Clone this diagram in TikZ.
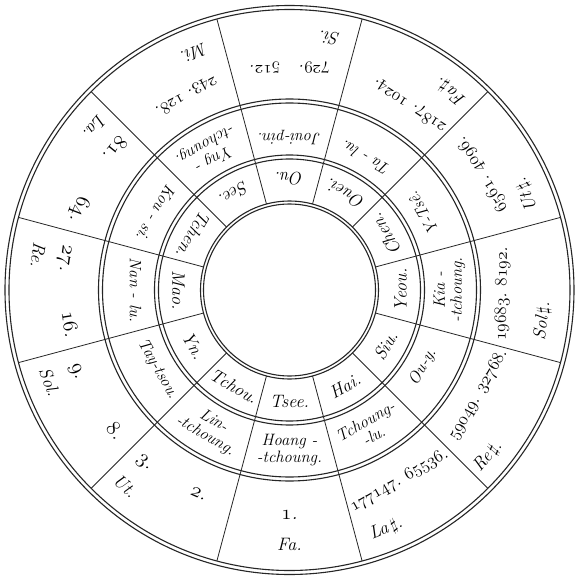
\documentclass[tikz,border=0pt]{standalone}
\usetikzlibrary{calc}
\newcommand\on[1]{{\usefont{OML}{lmm}{m}{it}#1}}
\tikzset{
  ringline/.style={line width=1.1pt, draw=black!85},
  spoke/.style={line width=0.8pt, draw=black!85},
  br/.style={font=\fontsize{18}{20}\selectfont\itshape, inner sep=0pt},
  lu/.style={font=\fontsize{16.5}{17}\selectfont\itshape, inner sep=0pt, align=center},
  num/.style={font=\fontsize{18.5}{20}\selectfont\itshape, inner sep=0pt},
  sn/.style={font=\fontsize{20}{22}\selectfont\itshape, inner sep=0pt},
  note/.style={font=\fontsize{18}{20}\selectfont\itshape, inner sep=0pt},
}
\begin{document}
\begin{tikzpicture}[x=1pt,y=1pt]
\useasboundingbox (-289.5,-289) rectangle (285.5,290);
\fill[white] (-289.5,-289) rectangle (285.5,290);
% rings
\foreach \r in {86,89,131,135,187,191,280.5,284.5} \draw[ringline] (0,0) circle (\r);
% spokes
\foreach \a in {15,45,...,345} \draw[spoke] (\a:89) -- (\a:280.5);
% twelve branches
\node[br,rotate=0]    (tsee)  at (-90:111)  {Tsee.};
\node[br,rotate=-30]  (tchou) at (-120:111) {Tchou.};
\node[br,rotate=-60]  (yn)    at (-150:111) {Yn.};
\node[br,rotate=-90]  (mao)   at (180:111)  {Mao.};
\node[br,rotate=-120] (tchen) at (150:111)  {Tchen.};
\node[br,rotate=210]  (see)   at (120:111)  {See.};
\node[br,rotate=180]  (ou)    at (90:111)   {Ou.};
\node[br,rotate=150]  (ouei)  at (60:111)   {Ouei.};
\node[br,rotate=120]  (chen)  at (30:111)   {Chen.};
\node[br,rotate=90]   (yeou)  at (0:111)    {Yeou.};
\node[br,rotate=60]   (siu)   at (-30:111)  {Siu.};
\node[br,rotate=30]   (hai)   at (-60:111)  {Hai.};
% twelve lu
\node[lu,rotate=0]    (hoang)   at (-90:160)  {Hoang -\\-tchoung.};
\node[lu,rotate=-30]  (lin)     at (-120:160) {Lin-\\-tchoung.};
\node[lu,rotate=-60]  (tay)     at (-149:154) {Tay-tsou.};
\node[lu,rotate=-90]  (nan)     at (180:154)  {Nan - lu.};
\node[lu,rotate=-120] (kou)     at (150:154)  {Kou - si.};
\node[lu,rotate=210]  (yng)     at (120:160)  {Yng -\\-tchoung.};
\node[lu,rotate=180]  (joui)    at (90:152)   {Joui-pin.};
\node[lu,rotate=150]  (ta)      at (60:152)   {Ta - lu.};
\node[lu,rotate=120]  (ytse)    at (30:154)   {Y-Tsê.};
\node[lu,rotate=90]   (kia)     at (0:160)    {Kia -\\-tchoung.};
\node[lu,rotate=60]   (ouy)     at (-30:154)  {Ou-y.};
\node[lu,rotate=30]   (tchoung) at (-60:160)  {Tchoung-\\-lu.};
% outer ring numbers and notes
\node[sn,rotate=0]     (n1)   at (-90:225)  {\on{1}.};
\node[note,rotate=0]   (fa)   at (-90:254)  {Fa.};
\node[sn,rotate=-24]   (n2)   at (-114:223) {\on{2}.};
\node[sn,rotate=-40]   (n3)   at (-130:226) {\on{3}.};
\node[note,rotate=-40] (ut)   at (-130:256) {Ut.};
\node[sn,rotate=-51]   (n8)   at (-141:224) {\on{8}.};
\node[sn,rotate=-69]   (n9)   at (-159:229) {\on{9}.};
\node[note,rotate=-69] (sol)  at (-159:257) {Sol.};
\node[sn,rotate=-81]   (n16)  at (-171:222) {\on{16}.};
\node[sn,rotate=-98]   (n27)  at (172:228)  {\on{27}.};
\node[note,rotate=-98] (re)   at (172:254)  {Re.};
\node[sn,rotate=-111]  (n64)  at (159:226)  {\on{64}.};
\node[sn,rotate=-129]  (n81)  at (141:224)  {\on{81}.};
\node[note,rotate=-130](la)   at (140:254)  {La.};
\node[num,rotate=208]  (n243) at (118:220)  {\on{243}.\ \on{128}.};
\node[note,rotate=202] (mi)   at (112:255)  {Mi.};
\node[num,rotate=180]  (n729) at (90:222)   {\on{729}.\quad\on{512}.};
\node[note,rotate=171] (si)   at (81:255)   {Si.};
\node[num,rotate=147]  (n2187) at (57:220)  {\on{2187}.\ \on{1024}.};
\node[note,rotate=141] (fas)  at (51:256)   {Fa\,$\sharp$.};
\node[num,rotate=121]  (n6561) at (31:225)  {\on{6561}.\ \on{4096}.};
\node[note,rotate=112] (uts)  at (22:256)   {Ut\,$\sharp$.};
\node[num,rotate=89]   (n19683) at (-1:213) {\on{19683}.\ \on{8192}.};
\node[note,rotate=83]  (sols) at (-7:255)   {Sol\,$\sharp$.};
\node[num,rotate=60]   (n59049) at (-29:216) {\on{59049}.\ \on{32768}.};
\node[note,rotate=50]  (res)  at (-40:259)  {Re\,$\sharp$.};
\node[num,rotate=30]   (n177147) at (-60:220) {\on{177147}.\ \on{65536}.};
\node[note,rotate=22]  (las)  at (-68:258)  {La\,$\sharp$.};
\end{tikzpicture}
\end{document}
